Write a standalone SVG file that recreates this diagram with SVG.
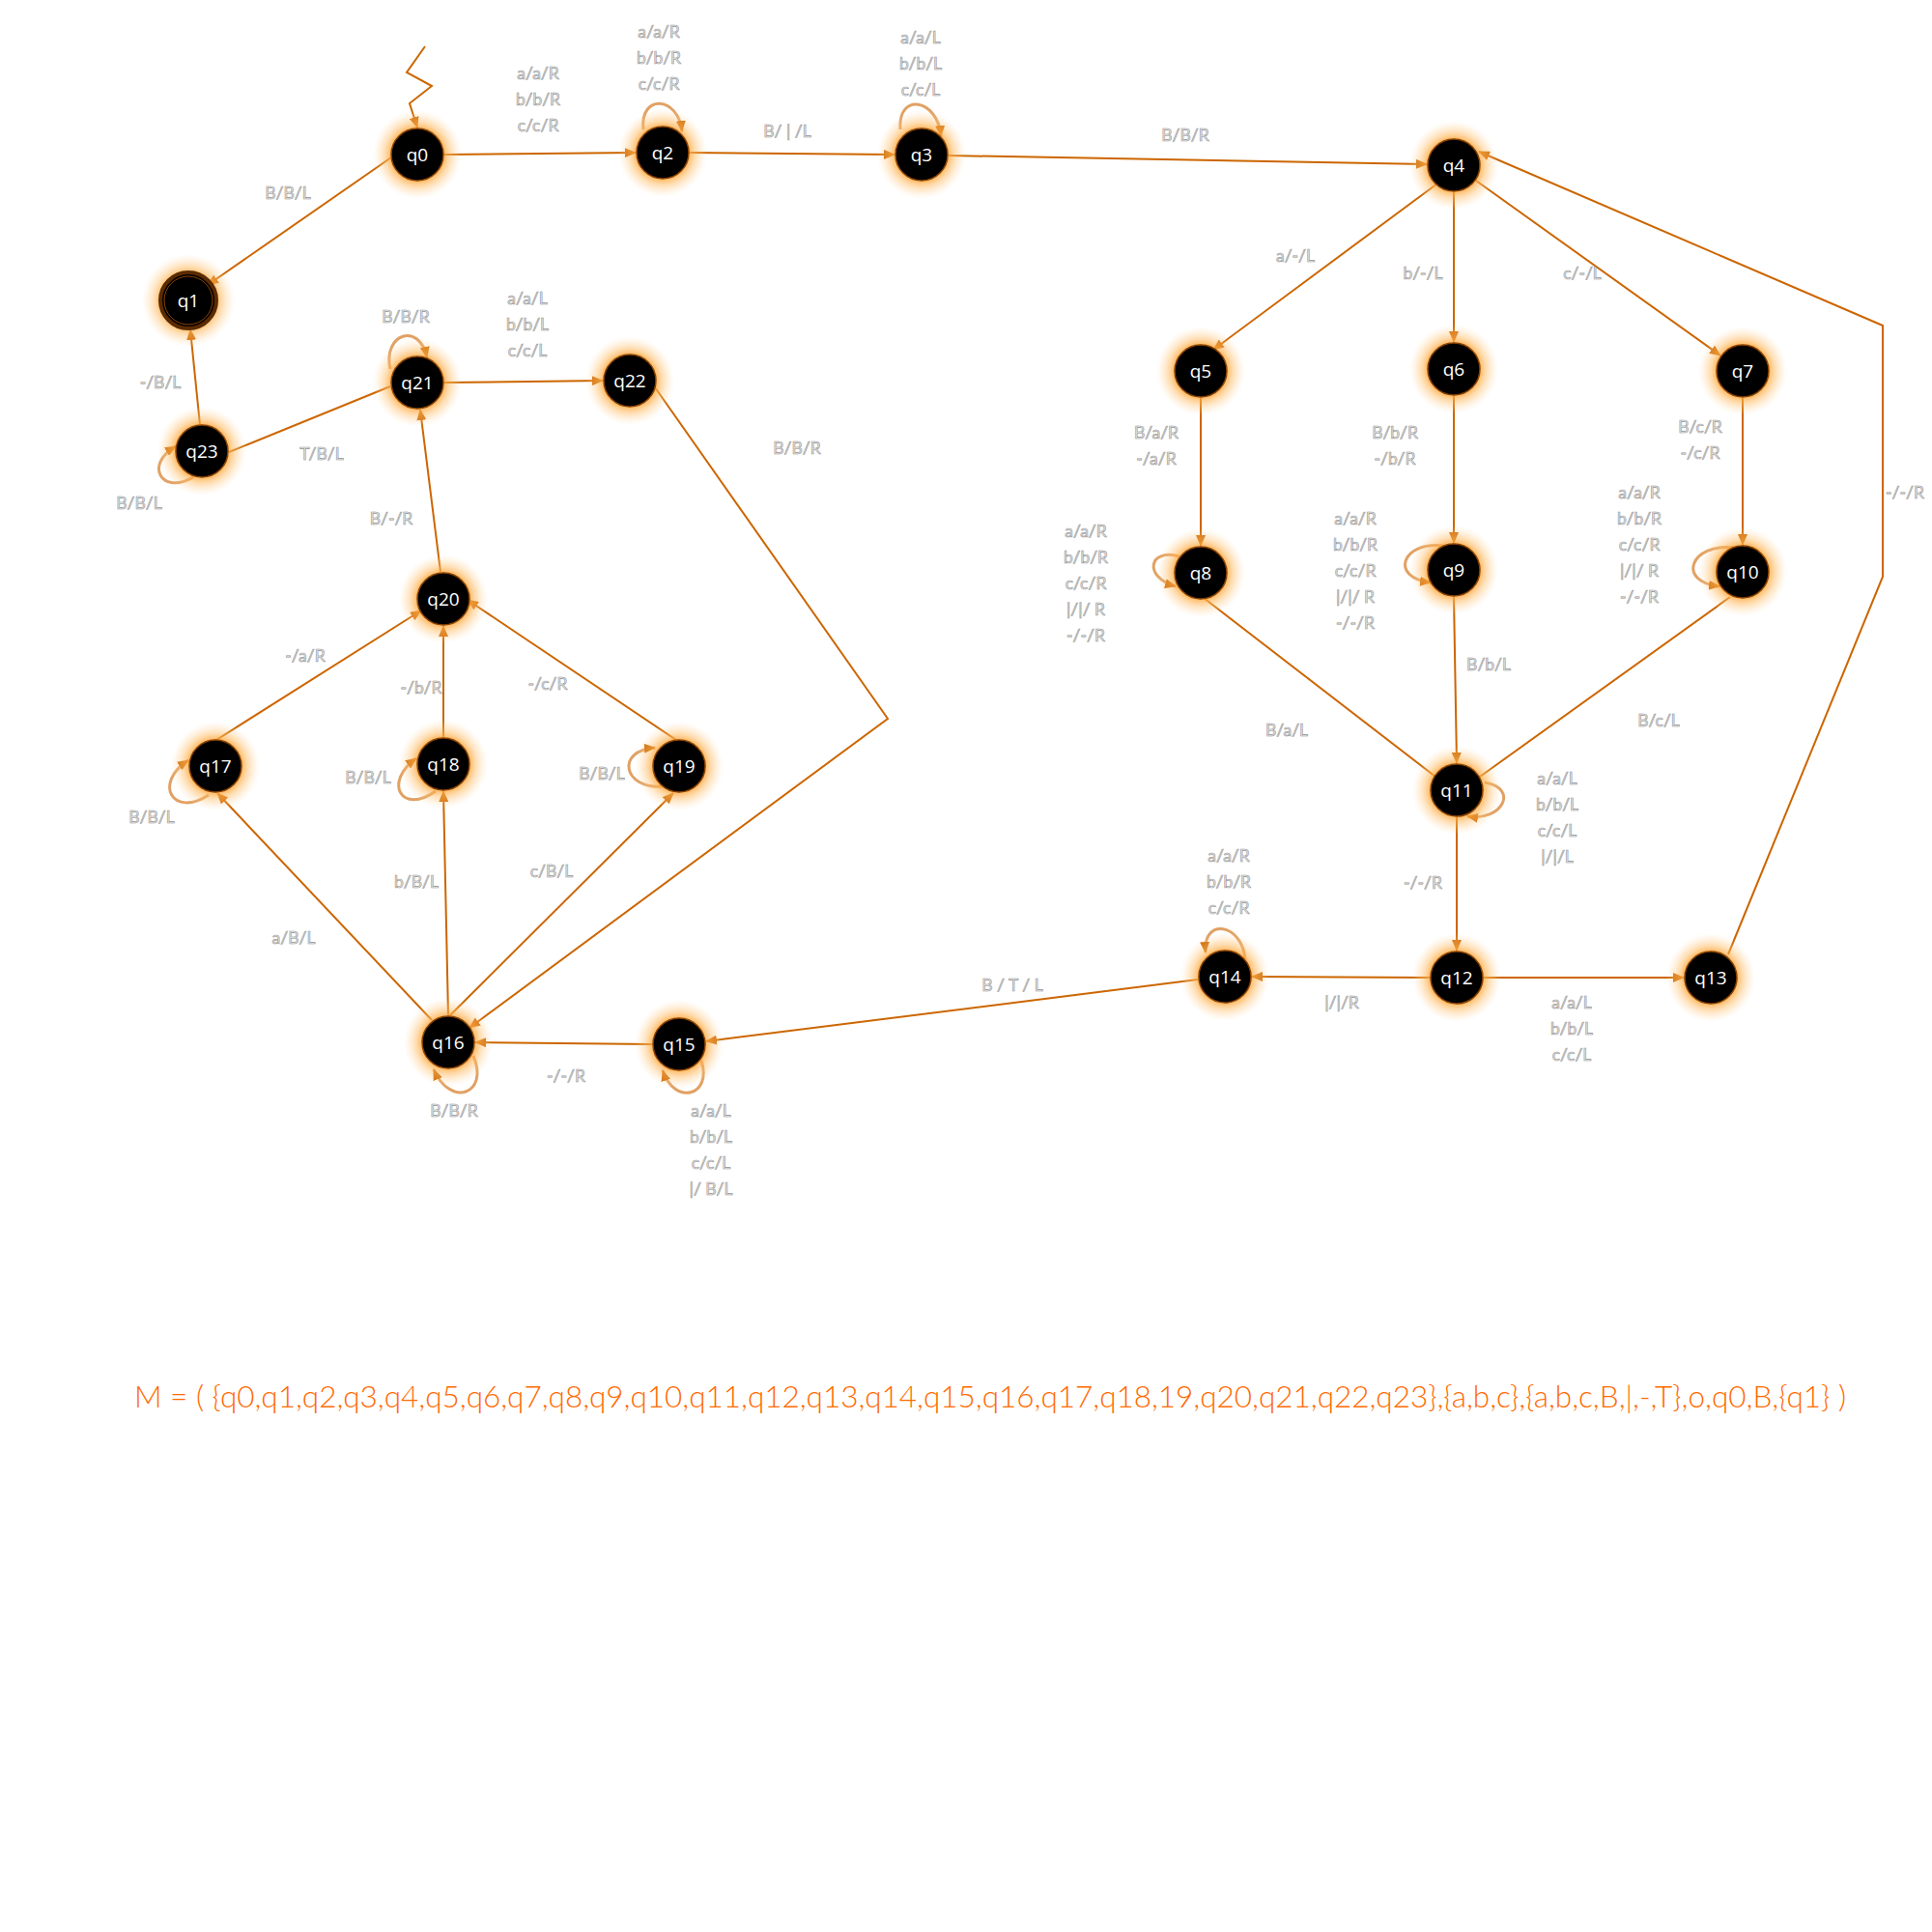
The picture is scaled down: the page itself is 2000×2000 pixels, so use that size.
<svg xmlns="http://www.w3.org/2000/svg" width="2000" height="2000" viewBox="0 0 2000 2000">
<style>
.e{fill:none;stroke:#cc6600;stroke-width:2}
.lp{fill:none;stroke:#d98a3c;stroke-width:3;stroke-opacity:0.8}
.nd{fill:#000;stroke:#8a4200;stroke-width:1.5}
.nl{font-family:"Open Sans","DejaVu Sans",sans-serif;font-size:19px;fill:#fff;text-anchor:middle}
.lb{font-family:Lato,"Open Sans",sans-serif;font-size:17.5px;fill:#e8e8e8;stroke:#939393;stroke-width:0.6;text-anchor:middle}
.m{font-family:Lato,"Open Sans",sans-serif;font-weight:300;font-size:32px;fill:#ff6a00}
</style>
<defs>
<radialGradient id="glow">
<stop offset="0.5" stop-color="#ff9a1f" stop-opacity="1"/>
<stop offset="0.72" stop-color="#ffb85c" stop-opacity="0.5"/>
<stop offset="1" stop-color="#ffd9a8" stop-opacity="0"/>
</radialGradient>
<marker id="ar" viewBox="0 0 12 10" refX="11" refY="5" markerWidth="12" markerHeight="10" markerUnits="userSpaceOnUse" orient="auto">
<path d="M0,0 L12,5 L0,10 z" fill="#cc6600"/>
</marker>
</defs>
<rect width="2000" height="2000" fill="#fff"/>

<g id="connectors">
<polyline class="e" points="440,48 421,75 447,89 424,107 432,132" marker-end="url(#ar)"/>
<line class="e" x1="460" y1="160" x2="658" y2="158" marker-end="url(#ar)"/>
<line class="e" x1="405" y1="163" x2="215" y2="295" marker-end="url(#ar)"/>
<line class="e" x1="714" y1="158" x2="926" y2="160" marker-end="url(#ar)"/>
<line class="e" x1="982" y1="161" x2="1477" y2="170" marker-end="url(#ar)"/>
<line class="e" x1="1488" y1="190" x2="1256" y2="362" marker-end="url(#ar)"/>
<line class="e" x1="1505" y1="199" x2="1505" y2="354" marker-end="url(#ar)"/>
<line class="e" x1="1528" y1="187" x2="1781" y2="368" marker-end="url(#ar)"/>
<line class="e" x1="1243" y1="412" x2="1243" y2="565" marker-end="url(#ar)"/>
<line class="e" x1="1505" y1="410" x2="1505" y2="562" marker-end="url(#ar)"/>
<line class="e" x1="1804" y1="412" x2="1804" y2="564" marker-end="url(#ar)"/>
<line class="e" x1="1246" y1="619" x2="1486" y2="804"/>
<line class="e" x1="1505" y1="618" x2="1508" y2="790" marker-end="url(#ar)"/>
<line class="e" x1="1791" y1="618" x2="1532" y2="804"/>
<line class="e" x1="1508" y1="846" x2="1508" y2="984" marker-end="url(#ar)"/>
<line class="e" x1="1536" y1="1012" x2="1743" y2="1012" marker-end="url(#ar)"/>
<line class="e" x1="1480" y1="1012" x2="1296" y2="1011" marker-end="url(#ar)"/>
<polyline class="e" points="1789,988 1949,597 1949,337 1531,157" marker-end="url(#ar)"/>
<line class="e" x1="1240" y1="1014" x2="731" y2="1078" marker-end="url(#ar)"/>
<line class="e" x1="675" y1="1081" x2="492" y2="1079" marker-end="url(#ar)"/>
<line class="e" x1="447" y1="1056" x2="225" y2="821" marker-end="url(#ar)"/>
<line class="e" x1="464" y1="1051" x2="459" y2="819" marker-end="url(#ar)"/>
<line class="e" x1="466" y1="1051" x2="697" y2="821" marker-end="url(#ar)"/>
<line class="e" x1="224" y1="766" x2="436" y2="632" marker-end="url(#ar)"/>
<line class="e" x1="459" y1="763" x2="459" y2="648" marker-end="url(#ar)"/>
<line class="e" x1="700" y1="766" x2="484" y2="621" marker-end="url(#ar)"/>
<line class="e" x1="456" y1="592" x2="435" y2="424" marker-end="url(#ar)"/>
<line class="e" x1="460" y1="396" x2="624" y2="394" marker-end="url(#ar)"/>
<line class="e" x1="404" y1="400" x2="237" y2="468"/>
<line class="e" x1="207" y1="440" x2="197" y2="341" marker-end="url(#ar)"/>
<polyline class="e" points="678,401 919,744 486,1064" marker-end="url(#ar)"/>

<path class="lp" d="M666,134 C662,97 702,99 706,136" marker-end="url(#ar)"/>
<path class="lp" d="M932,134 C929,95 971,102 974,141" marker-end="url(#ar)"/>
<path class="lp" d="M404,382 C396,345 434,333 442,370" marker-end="url(#ar)"/>
<path class="lp" d="M200,494 C167,513 149,481 182,462" marker-end="url(#ar)"/>
<path class="lp" d="M216,823 C179,847 158,811 195,787" marker-end="url(#ar)"/>
<path class="lp" d="M451,819 C416,844 396,810 431,785" marker-end="url(#ar)"/>
<path class="lp" d="M686,814 C645,817 637,777 678,774" marker-end="url(#ar)"/>
<path class="lp" d="M490,1093 C507,1133 466,1147 449,1107" marker-end="url(#ar)"/>
<path class="lp" d="M726,1098 C738,1135 698,1145 686,1108" marker-end="url(#ar)"/>
<path class="lp" d="M1289,993 C1286,956 1245,949 1248,986" marker-end="url(#ar)"/>
<path class="lp" d="M1537,810 C1573,816 1555,851 1519,845" marker-end="url(#ar)"/>
<path class="lp" d="M1221,576 C1188,567 1184,598 1217,607" marker-end="url(#ar)"/>
<path class="lp" d="M1494,565 C1451,560 1438,598 1481,603" marker-end="url(#ar)"/>
<path class="lp" d="M1795,567 C1750,562 1735,602 1780,607" marker-end="url(#ar)"/>

<g class="lb">
<text x="557" y="82">a/a/R<tspan x="557" dy="27">b/b/R</tspan><tspan x="557" dy="27">c/c/R</tspan></text>
<text x="682" y="39">a/a/R<tspan x="682" dy="27">b/b/R</tspan><tspan x="682" dy="27">c/c/R</tspan></text>
<text x="815" y="142">B/ | /L</text>
<text x="953" y="45">a/a/L<tspan x="953" dy="27">b/b/L</tspan><tspan x="953" dy="27">c/c/L</tspan></text>
<text x="1227" y="146">B/B/R</text>
<text x="298" y="206">B/B/L</text>
<text x="420" y="334">B/B/R</text>
<text x="546" y="315">a/a/L<tspan x="546" dy="27">b/b/L</tspan><tspan x="546" dy="27">c/c/L</tspan></text>
<text x="166" y="402">-/B/L</text>
<text x="333" y="476">T/B/L</text>
<text x="144" y="527">B/B/L</text>
<text x="405" y="543">B/-/R</text>
<text x="825" y="470">B/B/R</text>
<text x="316" y="685">-/a/R</text>
<text x="436" y="718">-/b/R</text>
<text x="567" y="714">-/c/R</text>
<text x="157" y="852">B/B/L</text>
<text x="381" y="811">B/B/L</text>
<text x="623" y="807">B/B/L</text>
<text x="431" y="919">b/B/L</text>
<text x="571" y="908">c/B/L</text>
<text x="304" y="977">a/B/L</text>
<text x="586" y="1120">-/-/R</text>
<text x="470" y="1156">B/B/R</text>
<text x="736" y="1156">a/a/L<tspan x="736" dy="27">b/b/L</tspan><tspan x="736" dy="27">c/c/L</tspan><tspan x="736" dy="27">|/ B/L</tspan></text>
<text x="1048" y="1026">B / T / L</text>
<text x="1272" y="892">a/a/R<tspan x="1272" dy="27">b/b/R</tspan><tspan x="1272" dy="27">c/c/R</tspan></text>
<text x="1197" y="454">B/a/R<tspan x="1197" dy="27">-/a/R</tspan></text>
<text x="1124" y="556">a/a/R<tspan x="1124" dy="27">b/b/R</tspan><tspan x="1124" dy="27">c/c/R</tspan><tspan x="1124" dy="27">|/|/ R</tspan><tspan x="1124" dy="27">-/-/R</tspan></text>
<text x="1341" y="271">a/-/L</text>
<text x="1473" y="289">b/-/L</text>
<text x="1638" y="289">c/-/L</text>
<text x="1444" y="454">B/b/R<tspan x="1444" dy="27">-/b/R</tspan></text>
<text x="1760" y="448">B/c/R<tspan x="1760" dy="27">-/c/R</tspan></text>
<text x="1972" y="516">-/-/R</text>
<text x="1403" y="543">a/a/R<tspan x="1403" dy="27">b/b/R</tspan><tspan x="1403" dy="27">c/c/R</tspan><tspan x="1403" dy="27">|/|/ R</tspan><tspan x="1403" dy="27">-/-/R</tspan></text>
<text x="1697" y="516">a/a/R<tspan x="1697" dy="27">b/b/R</tspan><tspan x="1697" dy="27">c/c/R</tspan><tspan x="1697" dy="27">|/|/ R</tspan><tspan x="1697" dy="27">-/-/R</tspan></text>
<text x="1541" y="694">B/b/L</text>
<text x="1332" y="762">B/a/L</text>
<text x="1717" y="752">B/c/L</text>
<text x="1612" y="812">a/a/L<tspan x="1612" dy="27">b/b/L</tspan><tspan x="1612" dy="27">c/c/L</tspan><tspan x="1612" dy="27">|/|/L</tspan></text>
<text x="1473" y="920">-/-/R</text>
<text x="1389" y="1044">|/|/R</text>
<text x="1627" y="1044">a/a/L<tspan x="1627" dy="27">b/b/L</tspan><tspan x="1627" dy="27">c/c/L</tspan></text>
</g>
</g>

<g id="q0"><circle cx="432" cy="160" r="46" fill="url(#glow)"/><circle class="nd" cx="432" cy="160" r="27"/><text class="nl" x="432" y="167">q0</text></g>
<g id="q1"><circle cx="195" cy="311" r="48" fill="url(#glow)"/><circle cx="195" cy="311" r="29" fill="#000" stroke="#5a2a00" stroke-width="4"/><circle cx="195" cy="311" r="25" fill="none" stroke="#8a4200" stroke-width="1"/><text class="nl" x="195" y="318">q1</text></g>
<g id="q2"><circle cx="686" cy="158" r="46" fill="url(#glow)"/><circle class="nd" cx="686" cy="158" r="27"/><text class="nl" x="686" y="165">q2</text></g>
<g id="q3"><circle cx="954" cy="160" r="46" fill="url(#glow)"/><circle class="nd" cx="954" cy="160" r="27"/><text class="nl" x="954" y="167">q3</text></g>
<g id="q4"><circle cx="1505" cy="171" r="46" fill="url(#glow)"/><circle class="nd" cx="1505" cy="171" r="27"/><text class="nl" x="1505" y="178">q4</text></g>
<g id="q5"><circle cx="1243" cy="384" r="46" fill="url(#glow)"/><circle class="nd" cx="1243" cy="384" r="27"/><text class="nl" x="1243" y="391">q5</text></g>
<g id="q6"><circle cx="1505" cy="382" r="46" fill="url(#glow)"/><circle class="nd" cx="1505" cy="382" r="27"/><text class="nl" x="1505" y="389">q6</text></g>
<g id="q7"><circle cx="1804" cy="384" r="46" fill="url(#glow)"/><circle class="nd" cx="1804" cy="384" r="27"/><text class="nl" x="1804" y="391">q7</text></g>
<g id="q8"><circle cx="1243" cy="593" r="46" fill="url(#glow)"/><circle class="nd" cx="1243" cy="593" r="27"/><text class="nl" x="1243" y="600">q8</text></g>
<g id="q9"><circle cx="1505" cy="590" r="46" fill="url(#glow)"/><circle class="nd" cx="1505" cy="590" r="27"/><text class="nl" x="1505" y="597">q9</text></g>
<g id="q10"><circle cx="1804" cy="592" r="46" fill="url(#glow)"/><circle class="nd" cx="1804" cy="592" r="27"/><text class="nl" x="1804" y="599">q10</text></g>
<g id="q11"><circle cx="1508" cy="818" r="46" fill="url(#glow)"/><circle class="nd" cx="1508" cy="818" r="27"/><text class="nl" x="1508" y="825">q11</text></g>
<g id="q12"><circle cx="1508" cy="1012" r="46" fill="url(#glow)"/><circle class="nd" cx="1508" cy="1012" r="27"/><text class="nl" x="1508" y="1019">q12</text></g>
<g id="q13"><circle cx="1771" cy="1012" r="46" fill="url(#glow)"/><circle class="nd" cx="1771" cy="1012" r="27"/><text class="nl" x="1771" y="1019">q13</text></g>
<g id="q14"><circle cx="1268" cy="1011" r="46" fill="url(#glow)"/><circle class="nd" cx="1268" cy="1011" r="27"/><text class="nl" x="1268" y="1018">q14</text></g>
<g id="q15"><circle cx="703" cy="1081" r="46" fill="url(#glow)"/><circle class="nd" cx="703" cy="1081" r="27"/><text class="nl" x="703" y="1088">q15</text></g>
<g id="q16"><circle cx="464" cy="1079" r="46" fill="url(#glow)"/><circle class="nd" cx="464" cy="1079" r="27"/><text class="nl" x="464" y="1086">q16</text></g>
<g id="q17"><circle cx="223" cy="793" r="46" fill="url(#glow)"/><circle class="nd" cx="223" cy="793" r="27"/><text class="nl" x="223" y="800">q17</text></g>
<g id="q18"><circle cx="459" cy="791" r="46" fill="url(#glow)"/><circle class="nd" cx="459" cy="791" r="27"/><text class="nl" x="459" y="798">q18</text></g>
<g id="q19"><circle cx="703" cy="793" r="46" fill="url(#glow)"/><circle class="nd" cx="703" cy="793" r="27"/><text class="nl" x="703" y="800">q19</text></g>
<g id="q20"><circle cx="459" cy="620" r="46" fill="url(#glow)"/><circle class="nd" cx="459" cy="620" r="27"/><text class="nl" x="459" y="627">q20</text></g>
<g id="q21"><circle cx="432" cy="396" r="46" fill="url(#glow)"/><circle class="nd" cx="432" cy="396" r="27"/><text class="nl" x="432" y="403">q21</text></g>
<g id="q22"><circle cx="652" cy="394" r="46" fill="url(#glow)"/><circle class="nd" cx="652" cy="394" r="27"/><text class="nl" x="652" y="401">q22</text></g>
<g id="q23"><circle cx="209" cy="467" r="46" fill="url(#glow)"/><circle class="nd" cx="209" cy="467" r="27"/><text class="nl" x="209" y="474">q23</text></g>

<text class="m" x="139" y="1457" textLength="1772" lengthAdjust="spacingAndGlyphs">M = ( {q0,q1,q2,q3,q4,q5,q6,q7,q8,q9,q10,q11,q12,q13,q14,q15,q16,q17,q18,19,q20,q21,q22,q23},{a,b,c},{a,b,c,B,|,-,T},o,q0,B,{q1} )</text>
</svg>
